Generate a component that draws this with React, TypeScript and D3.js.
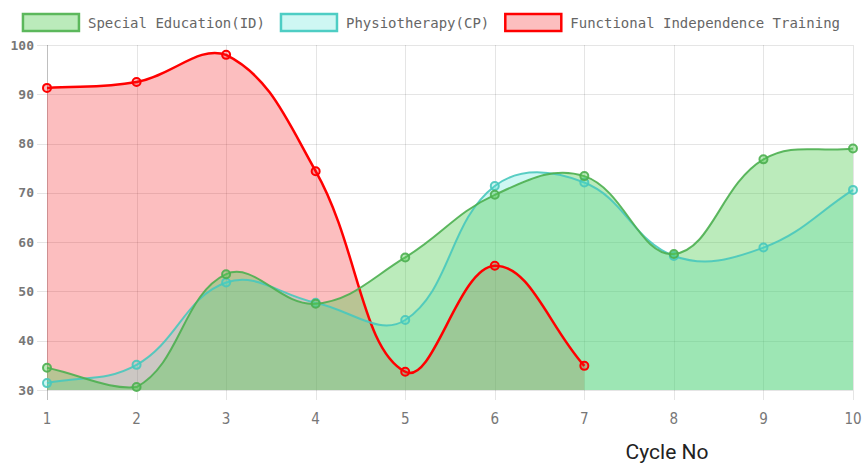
import React from 'react'
import * as d3 from 'd3'

const cycles = [1, 2, 3, 4, 5, 6, 7, 8, 9, 10]
const specialEducation = [34.5, 30.6, 53.5, 47.5, 56.9, 69.6, 73.4, 57.6, 76.8, 79.0]
const physiotherapy = [31.4, 35.1, 51.8, 47.7, 44.2, 71.4, 72.1, 57.2, 58.9, 70.6]
const independence = [91.3, 92.5, 98.0, 74.4, 33.7, 55.2, 34.9]
const yTicks = [30, 40, 50, 60, 70, 80, 90, 100]

const width = 862
const height = 470
const area = { left: 47, right: 853, top: 45, bottom: 390 }

const series = [
  { label: 'Special Education(ID)', values: specialEducation, stroke: 'rgba(76,175,80,0.9)', box: '#5cb85c', fill: 'rgba(84,204,84,0.4)', lw: 2 },
  { label: 'Physiotherapy(CP)', values: physiotherapy, stroke: 'rgba(72,200,188,0.9)', box: '#4ecdc4', fill: 'rgba(64,224,208,0.26)', lw: 2 },
  { label: 'Functional Independence Training', values: independence, stroke: '#ff0000', box: '#ff0000', fill: 'rgba(245,20,25,0.28)', lw: 2.5 },
]

const x = d3.scaleLinear().domain([1, 10]).range([area.left, area.right])
const y = d3.scaleLinear().domain([30, 100]).range([area.bottom, area.top])

// chart.js style bezier (tension 0.4), control points capped to chart area
function spline(pts: [number, number][], t = 0.4) {
  const clampY = (v: number) => Math.max(area.top, Math.min(area.bottom, v))
  const cps = pts.map((cur, i) => {
    const prev = pts[i - 1] ?? cur
    const next = pts[i + 1] ?? cur
    const d01 = Math.hypot(cur[0] - prev[0], cur[1] - prev[1])
    const d12 = Math.hypot(next[0] - cur[0], next[1] - cur[1])
    let s01 = d01 / (d01 + d12)
    let s12 = d12 / (d01 + d12)
    if (isNaN(s01)) s01 = 0
    if (isNaN(s12)) s12 = 0
    const fa = t * s01
    const fb = t * s12
    return {
      prev: [cur[0] - fa * (next[0] - prev[0]), clampY(cur[1] - fa * (next[1] - prev[1]))],
      next: [cur[0] + fb * (next[0] - prev[0]), clampY(cur[1] + fb * (next[1] - prev[1]))],
    }
  })
  const p = d3.path()
  p.moveTo(pts[0][0], pts[0][1])
  for (let i = 1; i < pts.length; i++) {
    p.bezierCurveTo(cps[i - 1].next[0], cps[i - 1].next[1], cps[i].prev[0], cps[i].prev[1], pts[i][0], pts[i][1])
  }
  return p.toString()
}

const monoFont = "'DejaVu Sans Mono', monospace"
const charW = 8.43
const boxW = 58

export default function App() {
  const prepared = series.map(s => {
    const pts = s.values.map((v, i) => [x(cycles[i]), y(v)] as [number, number])
    const line = spline(pts)
    const fillPath = `${line}L${pts[pts.length - 1][0]},${area.bottom}L${pts[0][0]},${area.bottom}Z`
    return { ...s, pts, line, fillPath }
  })

  // legend layout
  const itemWidths = series.map(s => boxW + 8 + s.label.length * charW)
  const total = d3.sum(itemWidths) + 15 * (series.length - 1)
  let lx = (width - total) / 2
  const legendPos = itemWidths.map(w => {
    const p = lx
    lx += w + 15
    return p
  })

  const reversed = [...prepared].reverse()

  return (
    <svg width={width} height={height} style={{ position: 'absolute', left: 0, top: 0, background: '#fff' }}>
      {/* grid */}
      {yTicks.map(t => (
        <line key={'gy' + t} x1={area.left - 10} x2={area.right} y1={Math.round(y(t)) + 0.5} y2={Math.round(y(t)) + 0.5} stroke="rgba(0,0,0,0.1)" />
      ))}
      {cycles.map(c => (
        <line key={'gx' + c} x1={Math.round(x(c)) + 0.5} x2={Math.round(x(c)) + 0.5} y1={area.top} y2={area.bottom + 10} stroke={c === 1 ? 'rgba(0,0,0,0.25)' : 'rgba(0,0,0,0.1)'} />
      ))}

      {/* fills, last dataset underneath */}
      {reversed.map(s => (
        <path key={'f' + s.label} d={s.fillPath} fill={s.fill} stroke="none" />
      ))}
      {reversed.map(s => (
        <g key={'l' + s.label}>
          <path d={s.line} fill="none" stroke={s.stroke} strokeWidth={s.lw} />
          {s.pts.map((p, i) => (
            <circle key={i} cx={p[0]} cy={p[1]} r={4} fill={s.fill} stroke={s.stroke} strokeWidth={2} />
          ))}
        </g>
      ))}

      {/* y tick labels */}
      {yTicks.map(t => (
        <text key={'ty' + t} x={34} y={y(t)} dy="0.35em" textAnchor="end" fontFamily={monoFont} fontSize={13} fontWeight="bold" fill="#777">
          {t}
        </text>
      ))}
      {/* x tick labels */}
      {cycles.map(c => (
        <text key={'tx' + c} x={x(c)} y={424} textAnchor="middle" fontFamily="'Liberation Sans Narrow', 'DejaVu Sans Condensed', sans-serif" fontSize={15} fill="#777">
          {c}
        </text>
      ))}
      <text x={667} y={459} textAnchor="middle" fontFamily="Roboto, sans-serif" fontSize={21} fill="#222">
        Cycle No
      </text>

      {/* legend */}
      {series.map((s, i) => (
        <g key={'lg' + s.label} transform={`translate(${legendPos[i]},13)`}>
          <rect x={1} y={1} width={boxW - 2} height={17} fill={s.fill} stroke={s.box} strokeWidth={2.5} />
          <text x={boxW + 8} y={10} dy="0.35em" fontFamily={monoFont} fontSize={14} fill="#666">
            {s.label}
          </text>
        </g>
      ))}
    </svg>
  )
}
